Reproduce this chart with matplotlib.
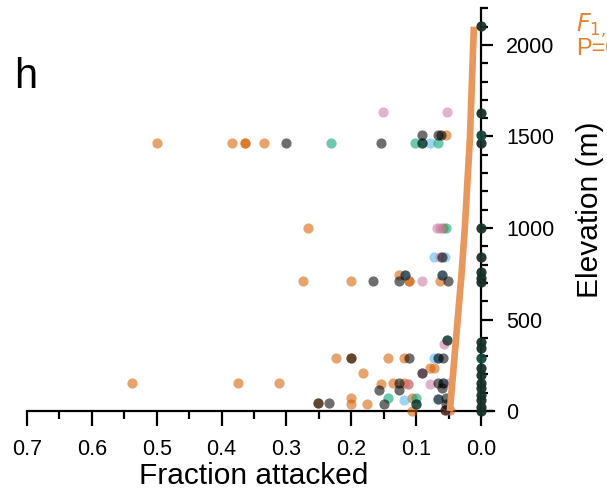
import matplotlib
matplotlib.use("Agg")
import matplotlib.pyplot as plt
from matplotlib.ticker import MultipleLocator

plt.rcParams['font.family'] = ['Liberation Sans', 'DejaVu Sans']

# ---- data (fraction attacked vs elevation) ----
verm_frac = [0.500, 0.384, 0.364, 0.364, 0.334, 0.054, 0.058, 0.267, 0.274, 0.200,
             0.126, 0.111, 0.111, 0.063, 0.224, 0.200, 0.143, 0.119, 0.182, 0.079,
             0.072, 0.538, 0.375, 0.312, 0.154, 0.135, 0.119, 0.112, 0.200, 0.200,
             0.176, 0.107, 0.107, 0.048, 0.055, 0.251]
verm_elev = [1464, 1464, 1464, 1464, 1464, 1508, 1000, 1000, 710, 710,
             743, 710, 710, 710, 291, 291, 291, 291, 206, 237,
             235, 155, 155, 155, 146, 155, 155, 146, 73, 36,
             38, 69, 0, 5, 5, 42]

black_frac = [0.300, 0.154, 0.091, 0.091, 0.066, 0.061, 0.060, 0.167, 0.126, 0.117,
              0.060, 0.051, 0.200, 0.111, 0.067, 0.058, 0.251, 0.235, 0.158, 0.126,
              0.126, 0.150, 0.066, 0.058, 0.060, 0.091, 0.054, 0.054, 0.100, 0.067,
              0.053, 0.055]
black_elev = [1464, 1464, 1464, 1508, 1508, 1508, 841, 710, 710, 743,
              743, 710, 291, 291, 291, 291, 42, 42, 115, 155,
              115, 38, 155, 155, 124, 206, 69, 38, 38, 64,
              388, 5]

teal_frac = [0.231, 0.102, 0.091, 0.067, 0.054, 0.143, 0.100, 0.100, 0.053]
teal_elev = [1464, 1464, 1464, 1464, 1000, 69, 69, 38, 388]

blue_frac = [0.079, 0.072, 0.055, 0.117, 0.060, 0.072, 0.067, 0.119, 0.067, 0.058]
blue_elev = [1464, 841, 841, 743, 743, 291, 291, 60, 64, 155]

pink_frac = [0.151, 0.052, 0.068, 0.063, 0.064, 0.091, 0.079, 0.050, 0.112, 0.057,
             0.053, 0.091]
pink_elev = [1634, 1634, 1000, 1000, 841, 710, 146, 155, 146, 366,
             5, 206]

zero_elev = [2104, 1630, 1465, 1000, 841, 760, 727, 707, 379, 344,
             235, 197, 153, 126, 87, 60, 22, 0]
zero_elev_green = [1508, 290]

fit_elev = [0, 250, 500, 750, 1000, 1250, 1500, 1800, 2100]
fit_frac = [0.048, 0.042, 0.036, 0.030, 0.025, 0.021, 0.017, 0.014, 0.011]

xticks = [0.7, 0.6, 0.5, 0.4, 0.3, 0.2, 0.1, 0.0]
xticklabels = ['0.7', '0.6', '0.5', '0.4', '0.3', '0.2', '0.1', '0.0']
yticks = [0, 500, 1000, 1500, 2000]

# ---- figure ----
fig = plt.figure(figsize=(6.07, 4.94), dpi=100)
W, H = 607, 494
ax_left, ax_right = 27 / W, 494 / W
ax_bottom, ax_top = (H - 411) / H, (H - 8.4) / H
ax = fig.add_axes([ax_left, ax_bottom, ax_right - ax_left, ax_top - ax_bottom])

ms = 54
alpha = 0.57
series = [
    (verm_frac, verm_elev, '#D55E00'),
    (blue_frac, blue_elev, '#56B4E9'),
    (teal_frac, teal_elev, '#009E73'),
    (pink_frac, pink_elev, '#CC79A7'),
    (black_frac, black_elev, '#000000'),
]
for fr, el, col in series:
    ax.scatter(fr, el, s=ms, color=col, alpha=alpha, linewidths=0,
               clip_on=False, zorder=3)

ax.plot(fit_frac, fit_elev, color='#E8985C', lw=4.8, solid_capstyle='butt',
        zorder=4, clip_on=False)

ax.scatter([0.0] * len(zero_elev), zero_elev, s=ms, color='#18302a', alpha=0.95,
           linewidths=0, clip_on=False, zorder=5)
ax.scatter([0.0] * len(zero_elev_green), zero_elev_green, s=ms, color='#14463a',
           alpha=0.95, linewidths=0, clip_on=False, zorder=5)

ax.set_xlim(0.7, -0.02)
ax.set_ylim(0, 2200)

for s in ['left', 'top']:
    ax.spines[s].set_visible(False)
ax.spines['right'].set_position(('data', 0.0))
ax.spines['right'].set_linewidth(1.6)
ax.spines['bottom'].set_linewidth(1.6)

ax.set_xticks(xticks)
ax.set_xticklabels(xticklabels)
ax.xaxis.set_minor_locator(MultipleLocator(0.05))
ax.yaxis.tick_right()
ax.set_yticks(yticks)
ax.yaxis.set_minor_locator(MultipleLocator(100))

ax.tick_params(axis='x', which='major', direction='out', length=10.5, width=1.6,
               pad=10, labelsize=15.5)
ax.tick_params(axis='x', which='minor', direction='out', length=6, width=1.6)
ax.tick_params(axis='y', which='major', direction='out', length=8.5, width=1.6,
               pad=9.5, labelsize=15.5, right=True, left=False)
ax.tick_params(axis='y', which='minor', direction='out', length=5, width=1.6,
               right=True, left=False)

ax.set_xlabel('Fraction attacked', fontsize=21.5)
ax.xaxis.set_label_coords(0.486, -0.127)
ax.yaxis.set_label_position('right')
ax.set_ylabel('Elevation (m)', fontsize=21.5, rotation=90, va='center', ha='center')
ax.yaxis.set_label_coords((590 - 27) / 467, (411 - 210) / 402.6)

fig.text(14 / W, 1 - 88 / H, 'h', fontsize=30, va='baseline', ha='left')
fig.text(576 / W, 1 - 32 / H, r'$\mathit{F}_{1,\,24}$ = 11.2', fontsize=17,
         color='#E8822A', va='baseline', ha='left')
fig.text(576 / W, 1 - 55 / H, 'P=0.002', fontsize=17, color='#E8822A',
         va='baseline', ha='left')

fig.savefig('out.png', dpi=100)
